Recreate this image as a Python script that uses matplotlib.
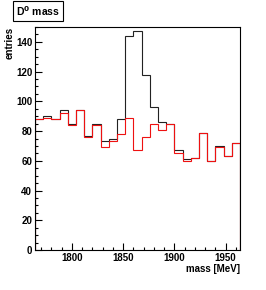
import numpy as np
import matplotlib
matplotlib.use("Agg")
import matplotlib.pyplot as plt
from matplotlib.ticker import MultipleLocator

# D0 mass histograms, 25 bins of 8 MeV from 1764 to 1964
bin_edges = np.arange(1764, 1965, 8)
entries_all = [88, 90, 88, 94, 85, 94, 77, 85, 73, 75, 88, 144, 147, 118,
               96, 86, 85, 67, 61, 62, 79, 60, 70, 63, 72]
entries_cut = [88, 89, 88, 92, 84, 94, 76, 84, 69, 73, 78, 89, 67, 76,
               85, 81, 85, 65, 60, 62, 79, 60, 69, 63, 72]

plt.rcParams['font.family'] = ['Liberation Sans', 'DejaVu Sans']
plt.rcParams['font.weight'] = 'bold'

fig = plt.figure(figsize=(2.66, 2.90), dpi=100)
ax = fig.add_axes([35/266, 1 - 250/290, 205/266, 223/290])

ax.stairs(entries_all, bin_edges, color='#222222', lw=0.8)
ax.stairs(entries_cut, bin_edges, color='#ee1111', lw=0.8)

ax.set_xlim(1764, 1964)
ax.set_ylim(0, 150)
ax.xaxis.set_major_locator(MultipleLocator(50))
ax.xaxis.set_minor_locator(MultipleLocator(10))
ax.yaxis.set_major_locator(MultipleLocator(20))
ax.yaxis.set_minor_locator(MultipleLocator(5))
ax.tick_params(which='both', direction='in', top=False, right=False,
               labelsize=7, pad=2, width=0.8)
ax.tick_params(which='major', length=5)
ax.tick_params(which='minor', length=2.5)
for lab in ax.get_xticklabels() + ax.get_yticklabels():
    lab.set_fontweight('bold')
for s in ax.spines.values():
    s.set_linewidth(0.8)

ax.set_xlabel('mass [MeV]', fontsize=7, fontweight='bold', loc='right', labelpad=1)
ax.set_ylabel('entries', fontsize=7, fontweight='bold', loc='top', labelpad=1)

fig.text(16/266, 1 - 16/290, r'D$^{\mathbf{0}}$ mass', fontsize=7.5, fontweight='bold',
         va='baseline', ha='left',
         bbox=dict(boxstyle='square,pad=0.3', fc='white', ec='black', lw=0.8))

fig.savefig('out.png', dpi=100)
